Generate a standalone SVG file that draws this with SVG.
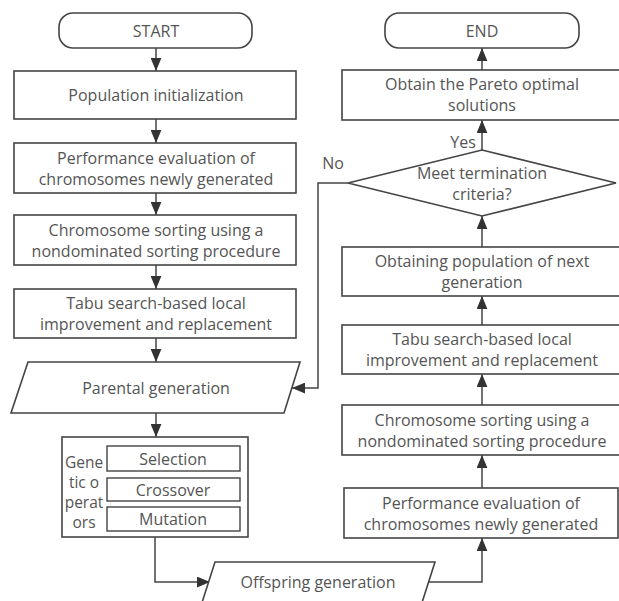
<svg xmlns="http://www.w3.org/2000/svg" width="619" height="601" viewBox="0 0 619 601">
<defs>
<style>
.box{fill:#fff;stroke:#444;stroke-width:1.6}
.sub{fill:#fff;stroke:#444;stroke-width:1.4}
.t{font-family:"Open Sans","Noto Sans",sans-serif;font-size:16px;fill:#555;text-anchor:middle;dominant-baseline:central}
.s{font-family:"Open Sans","Noto Sans",sans-serif;font-size:15.5px;fill:#555;text-anchor:middle;dominant-baseline:central}
.c{fill:none;stroke:#444;stroke-width:1.5}
</style>
<marker id="a" viewBox="0 0 12 10" refX="12" refY="5" markerWidth="13" markerHeight="11" markerUnits="userSpaceOnUse" orient="auto">
<path d="M0,0 L12,5 L0,10 z" fill="#333"/>
</marker>
</defs>
<rect width="619" height="601" fill="#fff"/>

<g id="connectors">
<path class="c" d="M156,48 V71" marker-end="url(#a)"/>
<path class="c" d="M156,119 V143" marker-end="url(#a)"/>
<path class="c" d="M156,193 V215" marker-end="url(#a)"/>
<path class="c" d="M156,265 V289" marker-end="url(#a)"/>
<path class="c" d="M156,338 V362" marker-end="url(#a)"/>
<path class="c" d="M156,413 V437" marker-end="url(#a)"/>
<path class="c" d="M155,537 V582 H210" marker-end="url(#a)"/>
<path class="c" d="M428,582 H482 V538" marker-end="url(#a)"/>
<path class="c" d="M482,488 V455" marker-end="url(#a)"/>
<path class="c" d="M482,405 V374" marker-end="url(#a)"/>
<path class="c" d="M482,325 V296" marker-end="url(#a)"/>
<path class="c" d="M482,247 V216" marker-end="url(#a)"/>
<path class="c" d="M482,150 V120" marker-end="url(#a)"/>
<path class="c" d="M482,70 V48" marker-end="url(#a)"/>
<path class="c" d="M348,183 H318 V388 H292" marker-end="url(#a)"/>
<text class="t" x="463" y="142">Yes</text>
<text class="t" x="333" y="163">No</text>
</g>

<g id="start">
<rect class="box" x="59" y="13" width="193" height="35" rx="14"/>
<text class="t" x="156" y="30.5">START</text>
</g>
<g id="pop-init">
<rect class="box" x="14" y="71" width="282" height="48"/>
<text class="t" x="156" y="95">Population initialization</text>
</g>
<g id="perf-eval-left">
<rect class="box" x="14" y="143" width="282" height="50"/>
<text class="t" x="156" y="158">Performance evaluation of</text>
<text class="t" x="156" y="179">chromosomes newly generated</text>
</g>
<g id="sort-left">
<rect class="box" x="14" y="215" width="282" height="50"/>
<text class="t" x="156" y="230">Chromosome sorting using a</text>
<text class="t" x="156" y="251">nondominated sorting procedure</text>
</g>
<g id="tabu-left">
<rect class="box" x="14" y="289" width="282" height="49"/>
<text class="t" x="156" y="303">Tabu search-based local</text>
<text class="t" x="156" y="324">improvement and replacement</text>
</g>
<g id="parental">
<polygon class="box" points="28,362 300,362 284,413 11,413"/>
<text class="t" x="156" y="388">Parental generation</text>
</g>
<g id="genetic">
<rect class="box" x="62" y="437" width="186" height="100"/>
<text class="s" x="84" y="462">Gene</text>
<text class="s" x="84" y="482">tic o</text>
<text class="s" x="84" y="502">perat</text>
<text class="s" x="84" y="522">ors</text>
<g id="selection">
<rect class="sub" x="107" y="446" width="133" height="25"/>
<text class="t" x="173" y="458.5">Selection</text>
</g>
<g id="crossover">
<rect class="sub" x="107" y="478" width="133" height="23"/>
<text class="t" x="173" y="489.5">Crossover</text>
</g>
<g id="mutation">
<rect class="sub" x="107" y="507" width="133" height="24"/>
<text class="t" x="173" y="519">Mutation</text>
</g>
</g>
<g id="offspring">
<polygon class="box" points="215,562 435,562 419,612 199,612"/>
<text class="t" x="318" y="582">Offspring generation</text>
</g>
<g id="perf-eval-right">
<rect class="box" x="344" y="488" width="274" height="50"/>
<text class="t" x="481" y="503">Performance evaluation of</text>
<text class="t" x="481" y="524">chromosomes newly generated</text>
</g>
<g id="sort-right">
<rect class="box" x="342" y="405" width="290" height="50"/>
<text class="t" x="482" y="420">Chromosome sorting using a</text>
<text class="t" x="482" y="441">nondominated sorting procedure</text>
</g>
<g id="tabu-right">
<rect class="box" x="342" y="325" width="290" height="49"/>
<text class="t" x="482" y="339">Tabu search-based local</text>
<text class="t" x="482" y="360">improvement and replacement</text>
</g>
<g id="next-gen">
<rect class="box" x="342" y="247" width="290" height="49"/>
<text class="t" x="482" y="261">Obtaining population of next</text>
<text class="t" x="482" y="282">generation</text>
</g>
<g id="termination">
<polygon class="box" points="482,150 616,183 482,216 348,183"/>
<text class="t" x="482" y="173">Meet termination</text>
<text class="t" x="482" y="194">criteria?</text>
</g>
<g id="pareto">
<rect class="box" x="342" y="70" width="290" height="50"/>
<text class="t" x="482" y="84">Obtain the Pareto optimal</text>
<text class="t" x="482" y="105">solutions</text>
</g>
<g id="end">
<rect class="box" x="385" y="13" width="194" height="35" rx="14"/>
<text class="t" x="482" y="30.5">END</text>
</g>
</svg>
